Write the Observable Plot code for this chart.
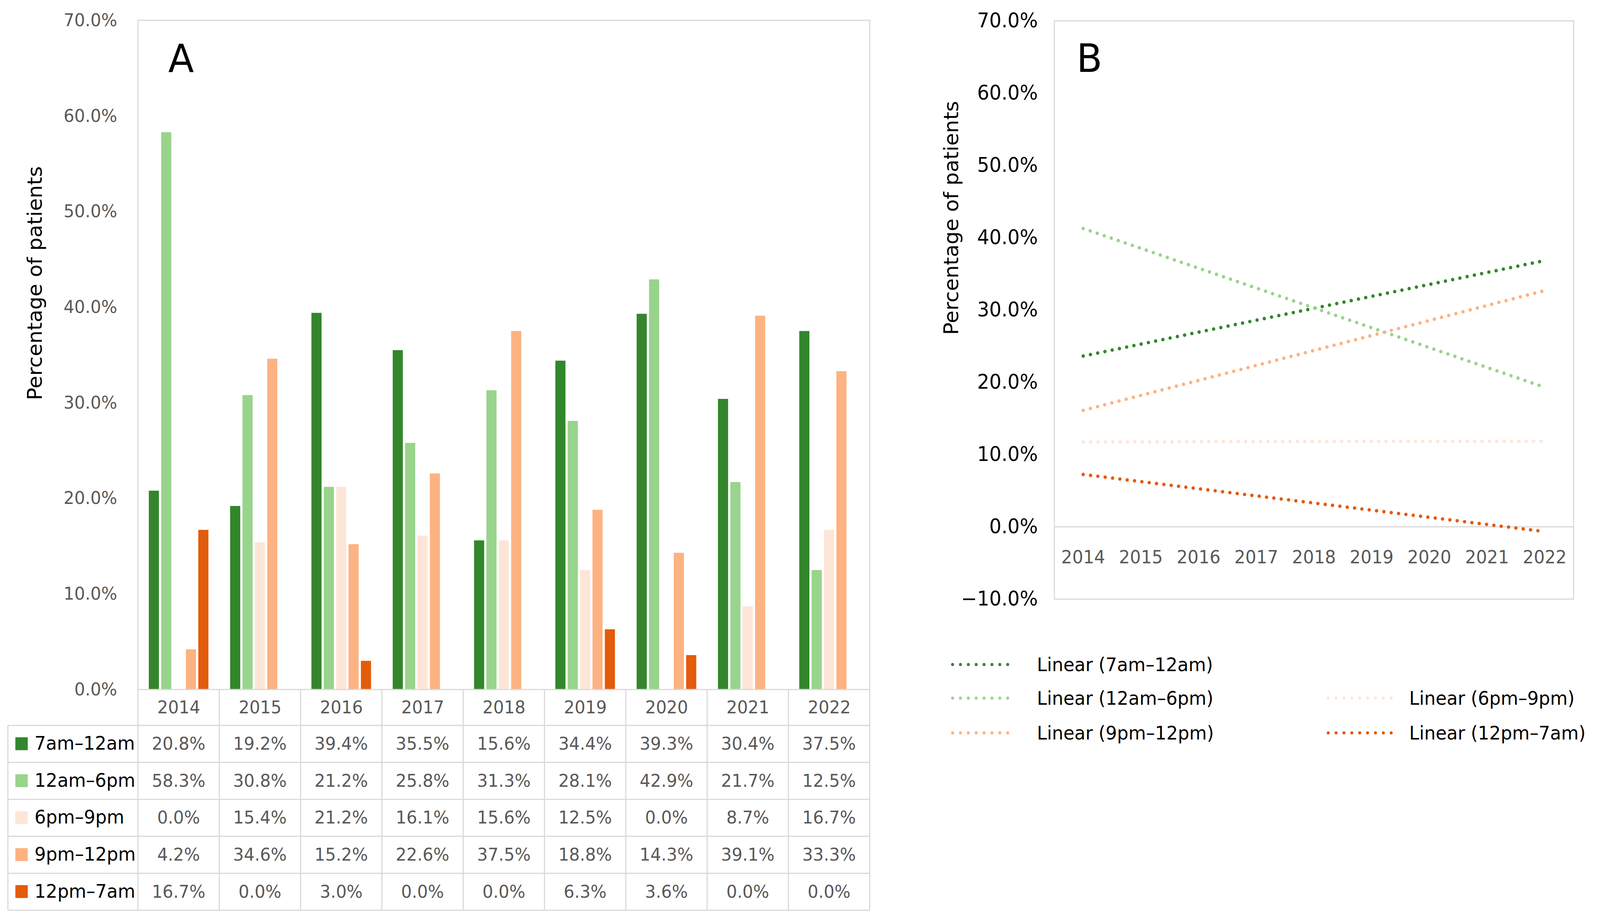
<!DOCTYPE html>
<html>
<head>
<meta charset="utf-8">
<script src="https://cdn.jsdelivr.net/npm/d3@7"></script>
<script src="https://cdn.jsdelivr.net/npm/@observablehq/plot@0.6"></script>
<style>
  html, body { margin: 0; padding: 0; background: #fff; overflow: hidden; }
  #root { position: relative; width: 4268px; height: 2355px; background: #fff; overflow: hidden;
          font-family: "DejaVu Sans", Verdana, sans-serif; transform-origin: 0 0; }
  #root > * { position: absolute; }
</style>
</head>
<body>
<div id="root"></div>
<script>
// ---------- data ----------
const years = ["2014", "2015", "2016", "2017", "2018", "2019", "2020", "2021", "2022"];
const categories = ["7am–12am", "12am–6pm", "6pm–9pm", "9pm–12pm", "12pm–7am"];
const colors = ["#33862b", "#98d48c", "#fde6d8", "#fdb282", "#e35b0b"];
const v7am12am = [20.8, 19.2, 39.4, 35.5, 15.6, 34.4, 39.3, 30.4, 37.5];
const v12am6pm = [58.3, 30.8, 21.2, 25.8, 31.3, 28.1, 42.9, 21.7, 12.5];
const v6pm9pm  = [0.0, 15.4, 21.2, 16.1, 15.6, 12.5, 0.0, 8.7, 16.7];
const v9pm12pm = [4.2, 34.6, 15.2, 22.6, 37.5, 18.8, 14.3, 39.1, 33.3];
const v12pm7am = [16.7, 0.0, 3.0, 0.0, 0.0, 6.3, 3.6, 0.0, 0.0];
const yTicksA = [0, 10, 20, 30, 40, 50, 60, 70];
const yTicksB = [-10, 0, 10, 20, 30, 40, 50, 60, 70];
const axisTitle = "Percentage of patients";
const legendLabels = categories.map(c => `Linear (${c})`);

const seriesValues = [v7am12am, v12am6pm, v6pm9pm, v9pm12pm, v12pm7am];
const data = categories.flatMap((c, i) =>
  years.map((y, j) => ({ year: y, t: +y, cat: c, value: seriesValues[i][j] })));

const FONT = '"DejaVu Sans", Verdana, sans-serif';
const GRID = "#d9d9d9";
const GRAY = "#595959";
const root = document.getElementById("root");
const pct = d => (d < 0 ? "\u2212" : "") + Math.abs(d).toFixed(1) + "%";

// fit the 4268x2355 design into the actual window
function fit() {
  const sx = window.innerWidth / 4268, sy = window.innerHeight / 2355;
  root.style.transform = `scale(${sx}, ${sy})`;
}
fit();
window.addEventListener("resize", fit);

// ---------- panel A: bars ----------
const plotA = Plot.plot({
  width: 2330, height: 1860,
  marginLeft: 368, marginRight: 10, marginTop: 52, marginBottom: 95,
  style: { background: "transparent", fontFamily: FONT, fontSize: "45px", color: GRAY, overflow: "visible" },
  fx: { domain: years, padding: 0, round: false, axis: null, label: null },
  x: { domain: categories, paddingInner: 0.1818, paddingOuter: 0.877, round: false, axis: null },
  y: { domain: [0, 70], axis: null },
  color: { domain: categories, range: colors },
  marks: [
    Plot.barY(data, { fx: "year", x: "cat", y: "value", fill: "cat" }),
    Plot.axisY({ ticks: yTicksA, tickFormat: pct, tickSize: 0, tickPadding: 56, label: null, fontSize: 45, fill: GRAY }),
    Plot.axisFx({ anchor: "bottom", tickSize: 0, tickPadding: 29, label: null, fontSize: 45, fill: GRAY })
  ]
});
plotA.style.left = "0px"; plotA.style.top = "0px";
root.appendChild(plotA);

// ---------- panel A: frame + data table ----------
const fx = plotA.scale("fx");
const yA = plotA.scale("y");
const colX = years.map(y => fx.apply(y));
const colW = fx.bandwidth;
const right = colX[colX.length - 1] + colW;
const yBottom = yA.apply(0), yTopA = yA.apply(70);
const tableTop = 1857, rowH = 94.6, tableLeft = 21;
const tableBottom = tableTop + rowH * categories.length;

const svgT = d3.create("svg").attr("width", 2330).attr("height", 2355)
  .style("left", "0px").style("top", "0px").style("font-family", FONT);
svgT.append("rect").attr("x", colX[0]).attr("y", yTopA).attr("width", right - colX[0]).attr("height", yBottom - yTopA)
  .attr("fill", "none").attr("stroke", GRID).attr("stroke-width", 3);
[...colX, right].forEach(b => svgT.append("line").attr("x1", b).attr("x2", b).attr("y1", yBottom).attr("y2", tableBottom)
  .attr("stroke", GRID).attr("stroke-width", 3));
svgT.append("line").attr("x1", tableLeft).attr("x2", tableLeft).attr("y1", tableTop).attr("y2", tableBottom)
  .attr("stroke", GRID).attr("stroke-width", 3);
d3.range(categories.length + 1).forEach(k => svgT.append("line")
  .attr("x1", tableLeft).attr("x2", right).attr("y1", tableTop + k * rowH).attr("y2", tableTop + k * rowH)
  .attr("stroke", GRID).attr("stroke-width", 3));
categories.forEach((c, i) => {
  const cy = tableTop + rowH * i + rowH / 2;
  svgT.append("rect").attr("x", 41).attr("y", cy - 17).attr("width", 33).attr("height", 33).attr("fill", colors[i]);
  svgT.append("text").attr("x", 92).attr("y", cy + 15).attr("font-size", 48).attr("fill", "#000").text(c);
  years.forEach((y, j) => {
    svgT.append("text").attr("x", colX[j] + colW / 2).attr("y", cy + 15).attr("text-anchor", "middle")
      .attr("font-size", 45).attr("fill", GRAY).text(seriesValues[i][j].toFixed(1) + "%");
  });
});
svgT.append("text").attr("x", 483).attr("y", 185).attr("text-anchor", "middle").attr("font-size", 100).attr("fill", "#000").text("A");
svgT.append("text").attr("transform", "translate(93,725) rotate(-90)").attr("text-anchor", "middle")
  .attr("dominant-baseline", "central").attr("font-size", 53).attr("fill", "#000").text(axisTitle);
root.appendChild(svgT.node());

// ---------- panel B: linear trends ----------
const plotB = Plot.plot({
  width: 1818, height: 1560,
  marginLeft: 362, marginRight: 71, marginTop: 53, marginBottom: 27,
  style: { background: "transparent", fontFamily: FONT, fontSize: "46px", color: "#000", overflow: "visible" },
  x: { domain: [2013.5, 2022.5], axis: null },
  y: { domain: [-10, 70], axis: null },
  color: { domain: categories, range: colors },
  marks: [
    Plot.frame({ stroke: GRID, strokeWidth: 3 }),
    Plot.ruleY([0], { stroke: GRID, strokeWidth: 3 }),
    Plot.axisY({ ticks: yTicksB, tickFormat: pct, tickSize: 0, tickPadding: 44, label: null, fontSize: 51, fill: "#000" }),
    Plot.axisX({ ticks: years.map(Number), tickFormat: d => String(d), tickSize: 0, tickPadding: 0, dy: -124,
                 label: null, fontSize: 46, fill: GRAY }),
    Plot.linearRegressionY(data, { x: "t", y: "value", stroke: "cat", ci: 0, strokeWidth: 9,
                                   strokeDasharray: "0 19.7", strokeLinecap: "round" })
  ]
});
plotB.style.left = "2450px"; plotB.style.top = "0px";
root.appendChild(plotB);

const svgB = d3.create("svg").attr("width", 1818).attr("height", 2355)
  .style("left", "2450px").style("top", "0px").style("font-family", FONT);
svgB.append("text").attr("x", 2906 - 2450).attr("y", 184).attr("text-anchor", "middle").attr("font-size", 100).attr("fill", "#000").text("B");
svgB.append("text").attr("transform", `translate(${2538 - 2450},558) rotate(-90)`).attr("text-anchor", "middle")
  .attr("dominant-baseline", "central").attr("font-size", 53).attr("fill", "#000").text(axisTitle);

// legend (slot: column, row)
const legendSlots = [[0, 0], [0, 1], [1, 1], [0, 2], [1, 2]];
const legendColX = [[2537, 2708, 2766], [3539, 3716, 3759]];
const legendRowY = [1701, 1787, 1876];
categories.forEach((c, i) => {
  const [col, row] = legendSlots[i];
  const [s0, s1, tx] = legendColX[col];
  const cy = legendRowY[row];
  svgB.append("line").attr("x1", s0 - 2450 + 4).attr("x2", s1 - 2450).attr("y1", cy).attr("y2", cy)
    .attr("stroke", colors[i]).attr("stroke-width", 8).attr("stroke-linecap", "round").attr("stroke-dasharray", "0 21");
  svgB.append("text").attr("x", tx - 2450).attr("y", cy + 17).attr("font-size", 48).attr("fill", "#000").text(legendLabels[i]);
});
root.appendChild(svgB.node());
</script>
</body>
</html>
